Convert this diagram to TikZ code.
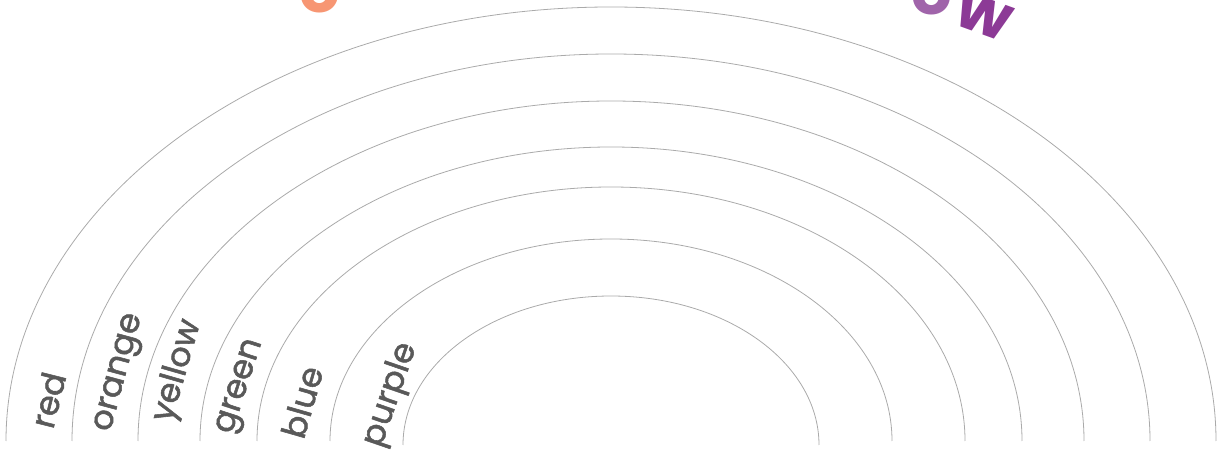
\documentclass[tikz,border=0pt]{standalone}
\usepackage{fontspec}
\setmainfont{Poppins}
\newfontfamily\bandfont[FakeBold=1.6]{Poppins}
\definecolor{arcgray}{HTML}{AAAAAA}
\definecolor{labelgray}{HTML}{595959}
\definecolor{titleorange}{HTML}{F79673}
\definecolor{titlelilac}{HTML}{A064AA}
\definecolor{titleplum}{HTML}{8C3A96}
\tikzset{
  band/.style={draw=arcgray, line width=0.6pt},
  bandlabel/.style={text=labelgray, font=\bandfont\fontsize{25}{27}\selectfont, inner sep=0pt},
  titleletter/.style={font=\fontsize{48}{50}\selectfont\bfseries, inner sep=0pt, anchor=base}
}
\begin{document}
\begin{tikzpicture}[x=0.75pt, y=0.75pt]
\useasboundingbox (0,0) rectangle (1219,456);
% title letters, cut off at the top edge
\begin{scope}
\clip (0,0) rectangle (1219,456);
\node[titleletter, text=titleorange] (tO) at (320,443) {o};
\node[titleletter, text=titlelilac] (tLo) at (932,441) {o};
\node[titleletter, text=titleplum, rotate=-20] (tW) at (978,423) {w};
\end{scope}
% bands
\draw[band] (6,15) arc[start angle=180, end angle=0, x radius=605, y radius=434];
\draw[band] (72,15) arc[start angle=180, end angle=0, x radius=539, y radius=387];
\draw[band] (138,15) arc[start angle=180, end angle=0, x radius=473, y radius=340];
\draw[band] (200,15) arc[start angle=180, end angle=0, x radius=411, y radius=294];
\draw[band] (257,15) arc[start angle=180, end angle=0, x radius=354, y radius=254];
\draw[band] (330,15) arc[start angle=180, end angle=0, x radius=281, y radius=202];
\draw[band] (403,11) arc[start angle=180, end angle=0, x radius=208, y radius=149];
% labels
\node[bandlabel, rotate=76] (red) at (48,56) {red};
\node[bandlabel, rotate=75] (orange) at (121,83) {orange};
\node[bandlabel, rotate=74] (yellow) at (178,85) {yellow};
\node[bandlabel, rotate=72] (green) at (242,69) {green};
\node[bandlabel, rotate=74] (blue) at (302,54) {blue};
\node[bandlabel, rotate=71] (purple) at (391,61) {purple};
\end{tikzpicture}
\end{document}
